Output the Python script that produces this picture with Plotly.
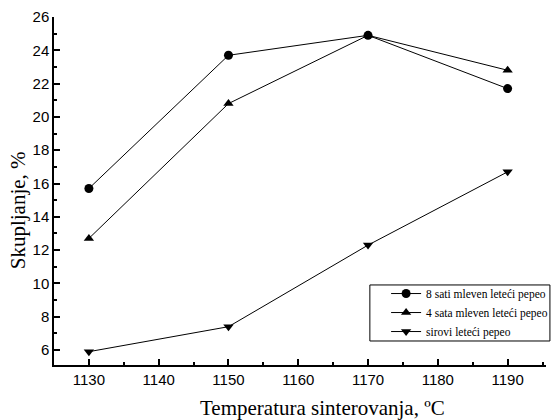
import plotly.graph_objects as go

temperature = [1130, 1150, 1170, 1190]
milled_8h = [15.7, 23.7, 24.9, 21.7]
milled_4h = [12.7, 20.8, 24.9, 22.8]
raw_ash = [5.9, 7.4, 12.3, 16.7]

x_ticks = [1130, 1140, 1150, 1160, 1170, 1180, 1190]
y_ticks = [6, 8, 10, 12, 14, 16, 18, 20, 22, 24, 26]

x_title = "Temperatura sinterovanja, ºC"
y_title = "Skupljanje, %"

series = [
    ("8 sati mleven leteći pepeo", milled_8h, "circle"),
    ("4 sata mleven leteći pepeo", milled_4h, "triangle-up"),
    ("sirovi leteći pepeo", raw_ash, "triangle-down"),
]

SERIF = "Liberation Serif, Times New Roman, serif"
SANS = "Liberation Sans, Arial, sans-serif"

fig = go.Figure()
for name, values, symbol in series:
    fig.add_trace(go.Scatter(
        x=temperature, y=values, name=name, mode="lines+markers",
        line=dict(color="black", width=1),
        marker=dict(symbol=symbol, size=9, color="black"),
    ))

axis_common = dict(
    showgrid=False, zeroline=False, showline=True, linecolor="black", linewidth=1.5,
    ticks="inside", tickcolor="black", tickwidth=1.5, ticklen=6,
    tickfont=dict(family=SANS, size=15, color="black"),
    mirror=False,
)

fig.update_xaxes(
    range=[1125, 1195.5], tickvals=x_ticks,
    minor=dict(ticks="inside", dtick=5, tick0=1125, ticklen=3, tickcolor="black", tickwidth=1.5),
    **axis_common,
)
fig.update_yaxes(
    range=[5.1, 26], tickvals=y_ticks,
    minor=dict(ticks="inside", dtick=1, tick0=0, ticklen=3, tickcolor="black", tickwidth=1.5),
    **axis_common,
)

# axis titles placed as annotations
fig.add_annotation(text=x_title, xref="paper", yref="paper", x=0.545, y=-0.124,
                   xanchor="center", yanchor="middle", showarrow=False,
                   font=dict(family=SERIF, size=21, color="black"))
fig.add_annotation(text=y_title, xref="paper", yref="paper", x=-0.073, y=0.445,
                   xanchor="center", yanchor="middle", showarrow=False, textangle=-90,
                   font=dict(family=SERIF, size=21, color="black"))

# legend frame drawn separately so the entries can sit further right inside it
fig.add_shape(type="rect", xref="paper", yref="paper",
              x0=0.642, x1=1.008, y0=0.069, y1=0.23,
              line=dict(color="black", width=1), fillcolor="white", layer="below")

fig.update_layout(
    width=551, height=420,
    margin=dict(l=54, r=5, t=17, b=55, autoexpand=False),
    paper_bgcolor="white", plot_bgcolor="rgba(0,0,0,0)",
    legend=dict(
        x=0.675, y=0.247, xanchor="left", yanchor="top",
        borderwidth=0, bgcolor="rgba(0,0,0,0)",
        font=dict(family=SERIF, size=11.5, color="black"),
        tracegroupgap=0, itemwidth=30,
    ),
)

fig.write_html("out.html")
